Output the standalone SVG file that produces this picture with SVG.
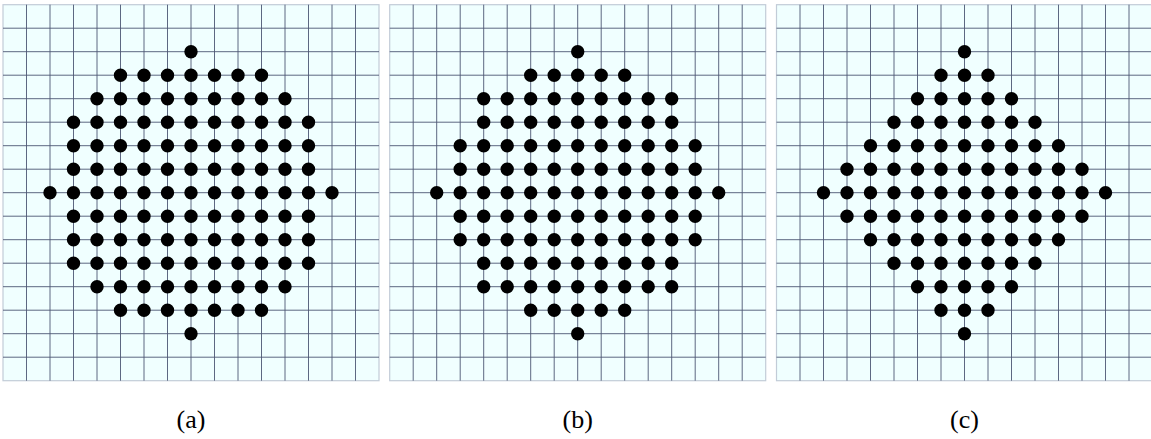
<svg xmlns="http://www.w3.org/2000/svg" xmlns:xlink="http://www.w3.org/1999/xlink" width="1151" height="439" viewBox="0 0 1151 439">
  <style>
    .bg { fill: #f0ffff; stroke: #c2ccd8; stroke-width: 1.2; }
    .gl { fill: none; stroke: #4c5774; stroke-width: 0.9; }
    .row { stroke: #000; stroke-width: 13.4; stroke-linecap: round; stroke-dasharray: 0 23.5; fill: none; }
    .lbl { font-family: "Liberation Serif", "DejaVu Serif", serif; font-size: 26px; fill: #000; text-anchor: middle; }
  </style>
  <defs>
    <g id="grid">
      <rect class="bg" x="0" y="0" width="376" height="376"/>
      <path class="gl" d="M23.5 0V376M47 0V376M70.5 0V376M94 0V376M117.5 0V376M141 0V376M164.5 0V376M188 0V376M211.5 0V376M235 0V376M258.5 0V376M282 0V376M305.5 0V376M329 0V376M352.5 0V376M0 23.5H376M0 47H376M0 70.5H376M0 94H376M0 117.5H376M0 141H376M0 164.5H376M0 188H376M0 211.5H376M0 235H376M0 258.5H376M0 282H376M0 305.5H376M0 329H376M0 352.5H376"/>
    </g>
  </defs>

  <g id="panel-a" transform="translate(3,4.7)">
    <use xlink:href="#grid" href="#grid"/>
    <g id="dots-a">
      <line class="row" x1="188" y1="47" x2="188.5" y2="47"/>
      <line class="row" x1="117.5" y1="70.5" x2="259" y2="70.5"/>
      <line class="row" x1="94" y1="94" x2="282.5" y2="94"/>
      <line class="row" x1="70.5" y1="117.5" x2="306" y2="117.5"/>
      <line class="row" x1="70.5" y1="141" x2="306" y2="141"/>
      <line class="row" x1="70.5" y1="164.5" x2="306" y2="164.5"/>
      <line class="row" x1="47" y1="188" x2="329.5" y2="188"/>
      <line class="row" x1="70.5" y1="211.5" x2="306" y2="211.5"/>
      <line class="row" x1="70.5" y1="235" x2="306" y2="235"/>
      <line class="row" x1="70.5" y1="258.5" x2="306" y2="258.5"/>
      <line class="row" x1="94" y1="282" x2="282.5" y2="282"/>
      <line class="row" x1="117.5" y1="305.5" x2="259" y2="305.5"/>
      <line class="row" x1="188" y1="329" x2="188.5" y2="329"/>
    </g>
  </g>

  <g id="panel-b" transform="translate(389.7,4.7)">
    <use xlink:href="#grid" href="#grid"/>
    <g id="dots-b">
      <line class="row" x1="188" y1="47" x2="188.5" y2="47"/>
      <line class="row" x1="141" y1="70.5" x2="235.5" y2="70.5"/>
      <line class="row" x1="94" y1="94" x2="282.5" y2="94"/>
      <line class="row" x1="94" y1="117.5" x2="282.5" y2="117.5"/>
      <line class="row" x1="70.5" y1="141" x2="306" y2="141"/>
      <line class="row" x1="70.5" y1="164.5" x2="306" y2="164.5"/>
      <line class="row" x1="47" y1="188" x2="329.5" y2="188"/>
      <line class="row" x1="70.5" y1="211.5" x2="306" y2="211.5"/>
      <line class="row" x1="70.5" y1="235" x2="306" y2="235"/>
      <line class="row" x1="94" y1="258.5" x2="282.5" y2="258.5"/>
      <line class="row" x1="94" y1="282" x2="282.5" y2="282"/>
      <line class="row" x1="141" y1="305.5" x2="235.5" y2="305.5"/>
      <line class="row" x1="188" y1="329" x2="188.5" y2="329"/>
    </g>
  </g>

  <g id="panel-c" transform="translate(776.5,4.7)">
    <use xlink:href="#grid" href="#grid"/>
    <g id="dots-c">
      <line class="row" x1="188" y1="47" x2="188.5" y2="47"/>
      <line class="row" x1="164.5" y1="70.5" x2="212" y2="70.5"/>
      <line class="row" x1="141" y1="94" x2="235.5" y2="94"/>
      <line class="row" x1="117.5" y1="117.5" x2="259" y2="117.5"/>
      <line class="row" x1="94" y1="141" x2="282.5" y2="141"/>
      <line class="row" x1="70.5" y1="164.5" x2="306" y2="164.5"/>
      <line class="row" x1="47" y1="188" x2="329.5" y2="188"/>
      <line class="row" x1="70.5" y1="211.5" x2="306" y2="211.5"/>
      <line class="row" x1="94" y1="235" x2="282.5" y2="235"/>
      <line class="row" x1="117.5" y1="258.5" x2="259" y2="258.5"/>
      <line class="row" x1="141" y1="282" x2="235.5" y2="282"/>
      <line class="row" x1="164.5" y1="305.5" x2="212" y2="305.5"/>
      <line class="row" x1="188" y1="329" x2="188.5" y2="329"/>
    </g>
  </g>

  <g id="labels">
    <text class="lbl" x="191" y="428">(a)</text>
    <text class="lbl" x="577.7" y="428">(b)</text>
    <text class="lbl" x="964.5" y="428">(c)</text>
  </g>
</svg>
